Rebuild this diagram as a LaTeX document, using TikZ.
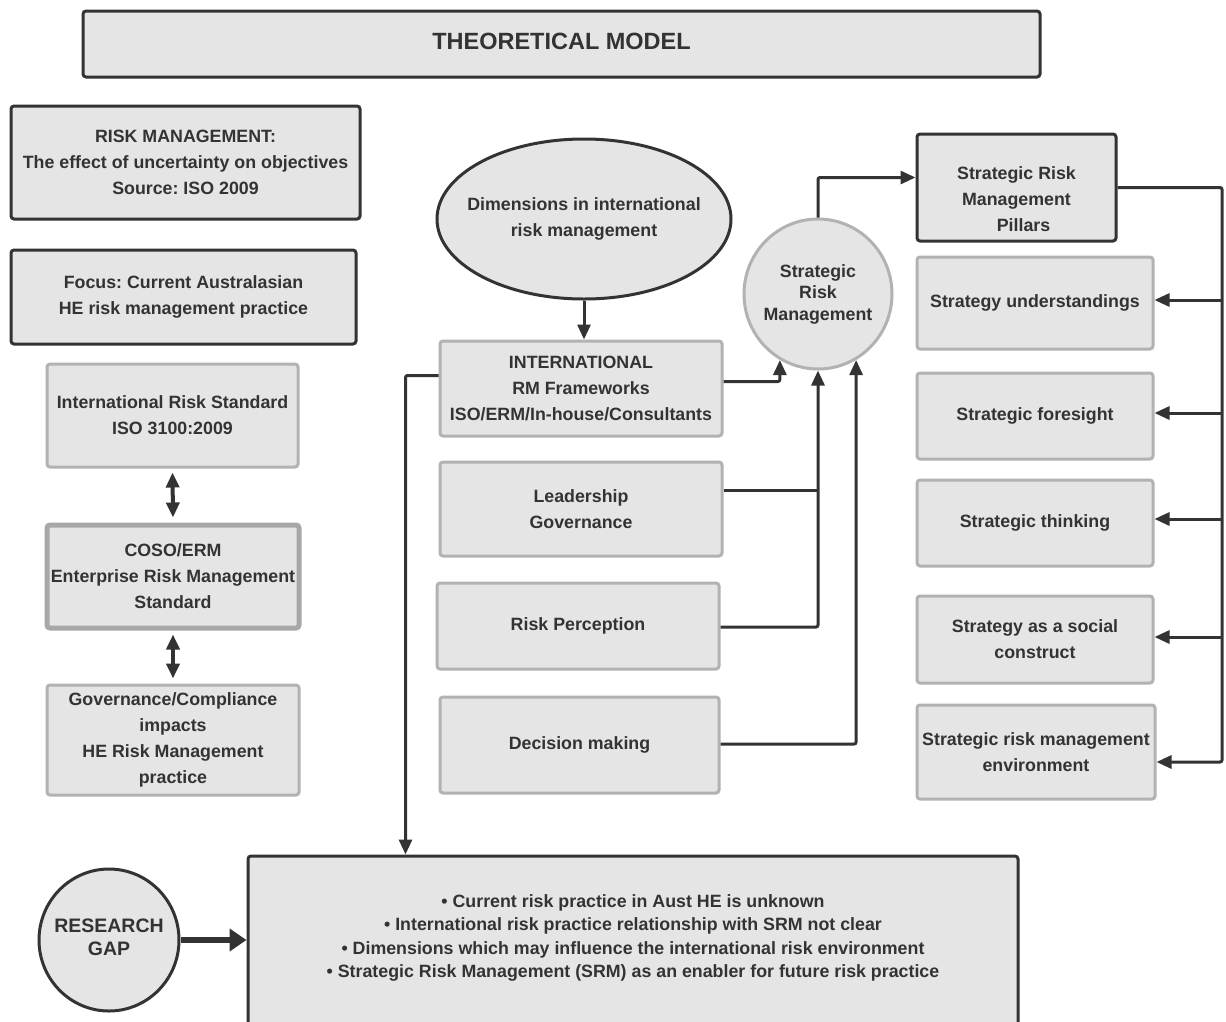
\documentclass[tikz,border=0pt]{standalone}
\usepackage{fontspec}
\setmainfont{Liberation Sans}
\frenchspacing
\usetikzlibrary{arrows.meta,shapes.geometric}
\definecolor{boxfill}{HTML}{E5E5E5}
\definecolor{ink}{HTML}{333333}
\definecolor{edge}{HTML}{B2B2B2}
\definecolor{cosoedge}{HTML}{A8A8A8}

\begin{document}
\begin{tikzpicture}[x=1pt,y=-1pt,
  txt/.style={text=ink, font=\bfseries\fontsize{17.8}{26}\selectfont, align=center, inner sep=0pt},
  base/.style={txt, fill=boxfill, line width=3pt, rounded corners=3pt},
  darkbox/.style={base, draw=ink},
  lightbox/.style={base, draw=edge},
  cosobox/.style={base, draw=cosoedge, line width=5pt},
  oval/.style={base, ellipse},
  wire/.style={draw=ink, line width=3pt, rounded corners=2pt},
  conn/.style={wire, -{Triangle[length=15pt,width=13pt]}},
  twoway/.style={draw=ink, line width=4pt, {Triangle[length=15pt,width=13pt]}-{Triangle[length=15pt,width=13pt]}},
  bigconn/.style={draw=ink, line width=6pt, -{Triangle[length=17pt,width=22pt]}}
]
\clip (0,0) rectangle (1226,1021);
\fill[white] (0,0) rectangle (1226,1021);

% title
\node[darkbox, minimum width=957pt, minimum height=66pt,
  label={[txt, font=\bfseries\fontsize{23.5}{28}\selectfont, yshift=3pt]center:THEORETICAL MODEL}] (title) at (561.5,44) {};

% left column
\node[darkbox, minimum width=349pt, minimum height=113pt] (riskm) at (185.5,162.5)
  {RISK MANAGEMENT:\\The effect of uncertainty on objectives\\Source: ISO 2009};
\node[darkbox, minimum width=345pt, minimum height=94pt] (focus) at (183.5,297)
  {Focus: Current Australasian\\HE risk management practice};
\node[lightbox, minimum width=251pt, minimum height=103pt] (irs) at (172.5,415.5)
  {International Risk Standard\\ISO 3100:2009};
\node[cosobox, minimum width=252pt, minimum height=103pt] (coso) at (173,576.5)
  {COSO/ERM\\Enterprise Risk Management\\Standard};
\node[lightbox, minimum width=252pt, minimum height=110pt] (gov) at (173,740)
  {Governance/Compliance\\impacts\\HE Risk Management\\practice};

% middle column
\node[oval, draw=ink, minimum width=294pt, minimum height=160pt,
  label={[txt]center:Dimensions in international\\risk management}] (dims) at (584,219) {};
\node[lightbox, minimum width=282pt, minimum height=95pt] (intl) at (581,388.5)
  {INTERNATIONAL\\RM Frameworks\\ISO/ERM/In-house/Consultants};
\node[lightbox, minimum width=282pt, minimum height=94pt] (lead) at (581,509)
  {Leadership\\Governance};
\node[lightbox, minimum width=282pt, minimum height=86pt] (perc) at (578,626)
  {Risk Perception};
\node[lightbox, minimum width=279pt, minimum height=96pt] (dec) at (579.5,745)
  {Decision making};

% strategic risk management hub
\node[oval, draw=edge, minimum width=148pt, minimum height=150pt,
  label={[txt, font=\bfseries\fontsize{17.8}{21.5}\selectfont]center:Strategic\\Risk\\Management}] (srm) at (818,294) {};

% right column
\node[darkbox, minimum width=199pt, minimum height=107pt,
  label={[txt, yshift=-11.5pt]center:Strategic Risk\\Management\\\hspace*{14pt}Pillars}] (pil) at (1016.5,187.5) {};
\node[lightbox, minimum width=236pt, minimum height=92pt] (su) at (1035,303) {Strategy understandings};
\node[lightbox, minimum width=236pt, minimum height=86pt] (sf) at (1035,416) {Strategic foresight};
\node[lightbox, minimum width=236pt, minimum height=86pt] (st) at (1035,523) {Strategic thinking};
\node[lightbox, minimum width=236pt, minimum height=87pt] (ssc) at (1035,639.5) {Strategy as a social\\construct};
\node[lightbox, minimum width=238pt, minimum height=94pt] (srme) at (1036,752) {Strategic risk management\\environment};

% research gap
\node[oval, draw=ink, minimum width=140pt, minimum height=142pt,
  label={[txt, font=\bfseries\fontsize{19.5}{23}\selectfont, yshift=3pt]center:RESEARCH\\GAP}] (rg) at (109,940) {};
\node[darkbox, minimum width=770pt, minimum height=184pt,
  label={[txt, font=\bfseries\fontsize{17.8}{23.5}\selectfont, yshift=10pt]center:{\textbullet\ Current risk practice in Aust HE is unknown\\
  \textbullet\ International risk practice relationship with SRM not clear\\
  \textbullet\ Dimensions which may influence the international risk environment\\
  \textbullet\ Strategic Risk Management (SRM) as an enabler for future risk practice}}] (gaps) at (633,948) {};

% connectors: left column
\draw[twoway, shorten <=4pt, shorten >=5pt] (irs.south) -- (coso.north);
\draw[twoway, shorten <=4pt, shorten >=5pt] (coso.south) -- (gov.north);

% connectors: middle column into the hub
\draw[conn] (dims.south) -- (dims.south |- intl.north);
\draw[conn] ([yshift=7pt]intl.east) -| (srm.240);
\draw[wire] ([yshift=19pt]lead.east) -- ([yshift=19pt]lead.east -| srm.south);
\draw[conn] ([yshift=-1pt]perc.east) -| (srm.south);
\draw[conn] ([yshift=1pt]dec.east) -| (srm.300);

% hub to pillars and the pillar bus
\coordinate (bus) at (1222,187.5);
\draw[conn] (srm.north) |- ([yshift=10pt]pil.west);
\draw[conn] (pil.east) -- (bus) |- ([yshift=-10pt]srme.east);
\draw[conn] ([yshift=3pt]su.east -| bus) -- ([yshift=3pt]su.east);
\draw[conn] ([yshift=3pt]sf.east -| bus) -- ([yshift=3pt]sf.east);
\draw[conn] ([yshift=4pt]st.east -| bus) -- ([yshift=4pt]st.east);
\draw[conn] ([yshift=2.5pt]ssc.east -| bus) -- ([yshift=2.5pt]ssc.east);

% frameworks down to the research gaps
\draw[conn] ([yshift=13pt]intl.west) -| ([xshift=159pt]gaps.north west);
\draw[bigconn] (rg.east) -- (rg.east -| gaps.west);
\end{tikzpicture}
\end{document}
